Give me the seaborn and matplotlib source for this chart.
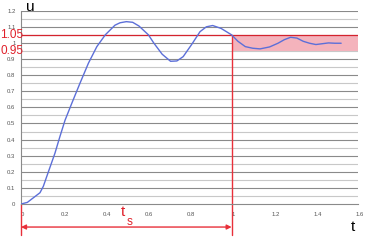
import matplotlib
matplotlib.use("Agg")
import matplotlib.pyplot as plt
import matplotlib.transforms as mtransforms
import seaborn as sns
import pandas as pd
import numpy as np

# Data
t = [0, 0.03, 0.06, 0.09, 0.106, 0.13, 0.161, 0.185, 0.209, 0.241, 0.28, 0.32, 0.36, 0.40, 0.446,
     0.47, 0.50, 0.53, 0.56, 0.605, 0.63, 0.67, 0.71, 0.74, 0.77, 0.81, 0.85, 0.88, 0.91, 0.95,
     1.0, 1.03, 1.065, 1.10, 1.135, 1.18, 1.22, 1.25, 1.28, 1.31, 1.34, 1.37, 1.40, 1.43, 1.46,
     1.49, 1.52]
u = [0, 0.01, 0.04, 0.07, 0.11, 0.2, 0.315, 0.42, 0.52, 0.625, 0.75, 0.874, 0.977, 1.05, 1.11,
     1.125, 1.132, 1.128, 1.105, 1.05, 1.0, 0.93, 0.886, 0.888, 0.915, 0.99, 1.07, 1.10, 1.108, 1.09,
     1.05, 1.01, 0.977, 0.967, 0.963, 0.975, 0.998, 1.02, 1.035, 1.03, 1.01, 0.998, 0.99, 0.995, 1.0,
     0.998, 0.998]
x_ticks = [0, 0.2, 0.4, 0.6, 0.8, 1, 1.2, 1.4, 1.6]
x_labels = ["0", "0.2", "0.4", "0.6", "0.8", "1", "1.2", "1.4", "1.6"]
y_ticks = [0, 0.1, 0.2, 0.3, 0.4, 0.5, 0.6, 0.7, 0.8, 0.9, 1.0, 1.1, 1.2]
y_labels = ["0", "0.1", "0.2", "0.3", "0.4", "0.5", "0.6", "0.7", "0.8", "0.9", "1", "1.1", "1.2"]
band_lo, band_hi = 0.95, 1.05
t_settle = 1.0

df = pd.DataFrame({"t": t, "u": u})

sns.set_theme(style="white")
plt.rcParams["font.family"] = ["Liberation Sans", "DejaVu Sans"]

fig = plt.figure(figsize=(3.7, 2.46), dpi=100)
ax = fig.add_axes([0.0568, 0.1707, 0.9108, 0.7858])
ax.set_xlim(0, 1.6)
ax.set_ylim(0, 1.2)

# grid lines
for yv in np.arange(0.05, 1.21, 0.1):
    ax.axhline(yv, color="#c8c8c8", lw=0.8, zorder=0)
for yv in y_ticks[1:]:
    ax.axhline(yv, color="#8a8a8a", lw=0.8, zorder=0)

# settling band
ax.fill_between([t_settle, 1.6], band_lo, band_hi, color="#f4b3bc", zorder=1, lw=0)
ax.axhline(band_hi, color="#d4232e", lw=0.9, zorder=1.5)

sns.lineplot(data=df, x="t", y="u", ax=ax, color="#5c6fd8", lw=1.0, zorder=3)

# vertical red lines
red = "#e8303a"
ax.plot([t_settle, t_settle], [band_hi, -0.195], color=red, lw=1.0, clip_on=False, zorder=2)
ax.plot([0, 0], [0, -0.195], color=red, lw=1.0, clip_on=False, zorder=2)
ax.annotate("", xy=(0, -0.143), xytext=(t_settle, -0.143),
            arrowprops=dict(arrowstyle="<|-|>", color=red, lw=1.0, mutation_scale=7,
                            shrinkA=0, shrinkB=0),
            annotation_clip=False)

ax.set_xticks(x_ticks)
ax.set_xticklabels(x_labels)
ax.set_yticks(y_ticks)
ax.set_yticklabels(y_labels)
ax.tick_params(axis="both", labelsize=4.3, colors="#555555", length=2, width=0.6, pad=2)
ax.tick_params(axis="x", direction="out", pad=4)
ax.set_xlabel("")
ax.set_ylabel("")

# nudge x tick labels slightly right so "0" and "1" sit beside the red lines
offset = mtransforms.ScaledTranslation(1.5 / 100, 0, fig.dpi_scale_trans)
for lbl in ax.get_xticklabels():
    lbl.set_transform(lbl.get_transform() + offset)

for s in ["top", "right"]:
    ax.spines[s].set_visible(False)
for s in ["left", "bottom"]:
    ax.spines[s].set_color("#8a8a8a")
    ax.spines[s].set_linewidth(0.8)

# labels
fig.text(30 / 370, 1 - 7 / 246, "u", fontsize=11, color="black", ha="center", va="center")
fig.text(353 / 370, 1 - 227 / 246, "t", fontsize=11, color="black", ha="center", va="center")
fig.text(12 / 370, 1 - 35 / 246, "1.05", fontsize=8.5, color="#e0202a", ha="center", va="center")
fig.text(12 / 370, 1 - 51 / 246, "0.95", fontsize=8.5, color="#e0202a", ha="center", va="center")
fig.text(123 / 370, 1 - 212 / 246, "t", fontsize=11, color="#e0202a", ha="center", va="center")
fig.text(130 / 370, 1 - 222 / 246, "s", fontsize=8.5, color="#e0202a", ha="center", va="center")

fig.savefig("out.png", dpi=100)
